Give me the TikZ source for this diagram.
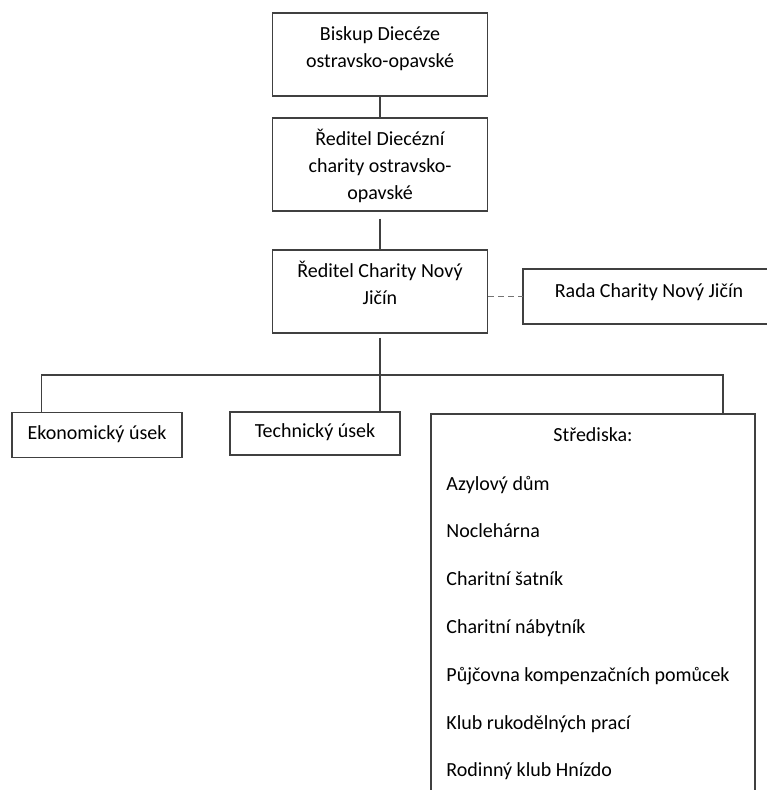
\documentclass[tikz,border=0pt]{standalone}
\usepackage{fontspec}
\setmainfont{Carlito}
\usetikzlibrary{positioning}

\begin{document}
\begin{tikzpicture}[x=1pt, y=-1pt,
  every node/.style = {inner sep=0pt, align=center, font=\fontsize{20}{27}\selectfont},
  box/.style = {shape=rectangle, draw=black!75, line width=1.5pt},
  boxtext/.style = {anchor=north, yshift=-9pt},
  onetext/.style = {text height=13pt, text depth=5pt},
  link/.style = {draw=black!75, line width=1.5pt}
    ]
  \useasboundingbox (0,0) rectangle (767,790);
  \clip (0,0) rectangle (767,790);
  % upper chain
  \node[box, minimum width=215, minimum height=83, anchor=north] (biskup) at (380,12) {};
  \node[boxtext] (biskuptext) at (biskup.north) {\strut Biskup Diecéze\\ostravsko-opavské};
  \node[box, minimum width=215, minimum height=93, anchor=north] (dch) at (380,117) {};
  \node[boxtext] (dchtext) at (dch.north) {\strut Ředitel Diecézní\\charity ostravsko-\\opavské};
  \node[box, minimum width=215, minimum height=83, anchor=north] (rch) at (380,249) {};
  \node[boxtext] (rchtext) at (rch.north) {\strut Ředitel Charity Nový\\Jičín};
  % council, open on the right
  \node[minimum width=300, minimum height=55, anchor=west] (rada) at (523,296.5) {};
  \node[anchor=base] (radatext) at (649,297) {Rada Charity Nový Jičín};
  \draw[link] (rada.north east) -- (rada.north west) -- (rada.south west) -- (rada.south east);
  % lower row
  \node[box, onetext, minimum width=170, minimum height=45] (eko) at (97,435)
    {Ekonomický úsek};
  \node[box, onetext, minimum width=170, minimum height=43] (tech) at (315,433.5)
    {Technický úsek};
  \node[box, minimum width=324, minimum height=400, anchor=north] (stred) at (593,413) {};
  \node[anchor=base] (stredhead) at (593,441) {Střediska:};
  \foreach \name [count=\i from 0] in {Azylový dům, Noclehárna, Charitní šatník,
      Charitní nábytník, Půjčovna kompenzačních pomůcek,
      Klub rukodělných prací, Rodinný klub Hnízdo}
    \node[anchor=base west] (item\i) at ([xshift=16]stred.west |- 0,{490+47.8*\i}) {\name};

  \coordinate (bar) at (380,375);
  \draw[link] (biskup) -- (dch);
  \draw[link] ([yshift=-7]dch.south) -- (rch.north);
  \draw[link] ([yshift=-4]rch.south) -- (rch.south |- tech.north);
  \draw[link] ([xshift=30]eko.north west) |- (bar) -| ([xshift=-33]stred.north east);
  \draw[link, draw=black!55, dash pattern=on 6pt off 4pt] (rada.west -| rch.east) -- (rada.west);
\end{tikzpicture}
\end{document}
